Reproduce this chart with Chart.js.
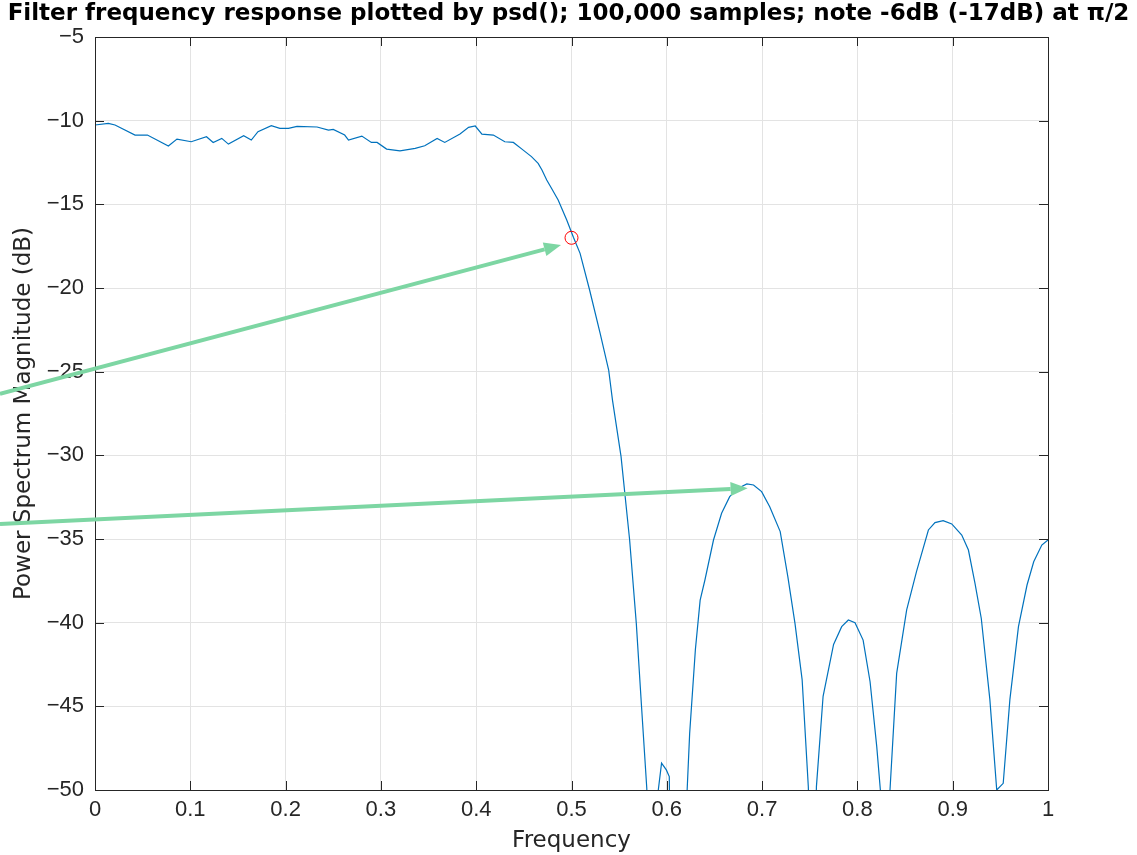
<!DOCTYPE html>
<html>
<head>
<meta charset="utf-8">
<script src="https://cdn.jsdelivr.net/npm/chart.js@4.4.1/dist/chart.umd.min.js"></script>
<style>
  html, body { margin: 0; padding: 0; background: #fff; }
  #wrap { width: 1137px; height: 855px; }
</style>
</head>
<body>
<div id="wrap"><canvas id="psd" width="1137" height="855"></canvas></div>
<script>
// psd() estimate (dB). Points below -50 fall outside the axes.
const freq = [
  0.000, 0.014, 0.021, 0.042, 0.055, 0.077, 0.086, 0.101, 0.117, 0.124,
  0.133, 0.140, 0.156, 0.164, 0.171, 0.185, 0.194, 0.203, 0.212, 0.233,
  0.245, 0.250, 0.262, 0.266, 0.280, 0.290, 0.296, 0.306, 0.320, 0.336,
  0.346, 0.359, 0.367, 0.383, 0.392, 0.399, 0.406, 0.418, 0.430, 0.439,
  0.448, 0.458, 0.465, 0.469, 0.474, 0.479, 0.486, 0.495, 0.502, 0.509,
  0.519, 0.530, 0.539, 0.543, 0.552, 0.561, 0.568, 0.5735, 0.579, 0.585,
  0.590, 0.5945, 0.5995, 0.6026, 0.604, 0.612, 0.624, 0.630, 0.635, 0.640,
  0.649, 0.6575, 0.666, 0.675, 0.684, 0.691, 0.6995, 0.708, 0.719, 0.727,
  0.7345, 0.742, 0.7485, 0.753, 0.757, 0.764, 0.775, 0.7835, 0.7905, 0.7975,
  0.806, 0.8133, 0.8203, 0.8244, 0.829, 0.834, 0.8412, 0.8517, 0.862, 0.8745,
  0.8814, 0.890, 0.899, 0.9095, 0.9165, 0.9234, 0.930, 0.939, 0.9462, 0.953,
  0.960, 0.969, 0.978, 0.985, 0.9935, 1.000
];
const powerDb = [
  -10.26, -10.16, -10.26, -10.86, -10.86, -11.51, -11.10, -11.26, -10.96, -11.30,
  -11.06, -11.40, -10.90, -11.16, -10.66, -10.30, -10.46, -10.46, -10.34, -10.38,
  -10.56, -10.52, -10.86, -11.16, -10.92, -11.30, -11.30, -11.70, -11.80, -11.66,
  -11.50, -11.06, -11.30, -10.80, -10.40, -10.32, -10.80, -10.86, -11.26, -11.30,
  -11.70, -12.15, -12.55, -12.95, -13.55, -14.04, -14.74, -15.94, -16.97, -17.93,
  -20.12, -22.70, -24.90, -26.70, -30.08, -35.06, -40.04, -45.02, -49.90, -60.0,
  -50.50, -48.40, -48.80, -49.20, -56.0, -62.0, -46.60, -41.60, -38.65, -37.45,
  -35.06, -33.46, -32.47, -31.97, -31.71, -31.77, -32.17, -33.07, -34.56, -37.25,
  -40.04, -43.40, -49.80, -60.0, -49.80, -44.40, -41.30, -40.24, -39.84, -40.00,
  -41.04, -43.53, -47.41, -50.20, -58.0, -50.20, -43.03, -39.24, -36.95, -34.46,
  -34.02, -33.90, -34.10, -34.76, -35.66, -37.65, -39.75, -44.60, -50.00, -49.60,
  -44.60, -40.24, -37.75, -36.36, -35.36, -35.06
];

// the -6dB point (pi/2) circled in red
const markFreq = [0.5];
const markDb = [-17];

// two green annotation arrows (data units; they start left of the axes)
const arrowStartF = [-0.0997, -0.0997];
const arrowStartDb = [-26.33, -34.10];
const arrowEndF = [0.489, 0.6848];
const arrowEndDb = [-17.43, -31.97];

const xTicks = [0, 0.1, 0.2, 0.3, 0.4, 0.5, 0.6, 0.7, 0.8, 0.9, 1];
const xTickLabels = ['0', '0.1', '0.2', '0.3', '0.4', '0.5', '0.6', '0.7', '0.8', '0.9', '1'];
const yTicks = [-50, -45, -40, -35, -30, -25, -20, -15, -10, -5];
const yTickLabels = ['\u221250', '\u221245', '\u221240', '\u221235', '\u221230', '\u221225', '\u221220', '\u221215', '\u221210', '\u22125'];

const axisColor = '#262626';
const tickFont = { family: "'Liberation Sans', Arial, sans-serif", size: 22 };
const labelFont = { family: "'DejaVu Sans', sans-serif", size: 23 };

// MATLAB style box with inward ticks, plus the arrows on top
const boxPlugin = {
  id: 'matlabBox',
  afterDatasetsDraw(chart) {
    const { ctx, chartArea: a, scales: { x, y } } = chart;
    ctx.save();
    ctx.strokeStyle = axisColor;
    ctx.lineWidth = 1;
    ctx.beginPath();
    xTicks.forEach(v => {
      const px = Math.round(x.getPixelForValue(v)) + 0.5;
      ctx.moveTo(px, a.bottom); ctx.lineTo(px, a.bottom - 9);
      ctx.moveTo(px, a.top); ctx.lineTo(px, a.top + 9);
    });
    yTicks.forEach(v => {
      const py = Math.round(y.getPixelForValue(v)) + 0.5;
      ctx.moveTo(a.left, py); ctx.lineTo(a.left + 9, py);
      ctx.moveTo(a.right, py); ctx.lineTo(a.right - 9, py);
    });
    ctx.stroke();
    ctx.strokeRect(Math.round(a.left) + 0.5, Math.round(a.top) + 0.5,
      Math.round(a.right - a.left), Math.round(a.bottom - a.top));

    ctx.strokeStyle = '#7dd6a3';
    ctx.fillStyle = '#7dd6a3';
    ctx.lineWidth = 4;
    for (let i = 0; i < arrowEndF.length; i++) {
      const x0 = x.getPixelForValue(arrowStartF[i]), y0 = y.getPixelForValue(arrowStartDb[i]);
      const x1 = x.getPixelForValue(arrowEndF[i]), y1 = y.getPixelForValue(arrowEndDb[i]);
      const ang = Math.atan2(y1 - y0, x1 - x0);
      const head = 17, half = 7;
      const bx = x1 - head * Math.cos(ang), by = y1 - head * Math.sin(ang);
      ctx.beginPath();
      ctx.moveTo(x0, y0);
      ctx.lineTo(bx, by);
      ctx.stroke();
      ctx.beginPath();
      ctx.moveTo(x1, y1);
      ctx.lineTo(bx - half * Math.sin(ang), by + half * Math.cos(ang));
      ctx.lineTo(bx + half * Math.sin(ang), by - half * Math.cos(ang));
      ctx.closePath();
      ctx.fill();
    }
    ctx.restore();
  }
};

new Chart(document.getElementById('psd'), {
  type: 'line',
  data: {
    datasets: [
      {
        data: freq.map((f, i) => ({ x: f, y: powerDb[i] })),
        borderColor: '#0072bd',
        borderWidth: 1.2,
        pointRadius: 0,
        tension: 0,
        order: 2
      },
      {
        data: markFreq.map((f, i) => ({ x: f, y: markDb[i] })),
        showLine: false,
        pointRadius: 6.5,
        pointBorderColor: '#ff0000',
        pointBackgroundColor: 'rgba(0,0,0,0)',
        pointBorderWidth: 1,
        order: 1
      }
    ]
  },
  options: {
    responsive: false,
    animation: false,
    devicePixelRatio: 1,
    layout: { padding: 0 },
    plugins: {
      legend: { display: false },
      tooltip: { enabled: false },
      title: {
        display: true,
        text: 'Filter frequency response plotted by psd(); 100,000 samples; note -6dB (-17dB) at \u03c0/2',
        color: '#000',
        font: { family: "'DejaVu Sans', sans-serif", size: 23, weight: 'bold', lineHeight: 1.2 },
        padding: { top: 0.5, bottom: 8.9 }
      }
    },
    scales: {
      x: {
        type: 'linear',
        min: 0, max: 1,
        afterFit: s => { s.height = 65; },
        afterBuildTicks: s => { s.ticks = xTicks.map(v => ({ value: v })); },
        ticks: {
          autoSkip: false, maxRotation: 0, padding: 7,
          color: axisColor, font: tickFont,
          callback: v => xTickLabels[xTicks.indexOf(v)]
        },
        grid: { color: '#e3e3e3', drawTicks: false },
        border: { display: false },
        title: {
          display: true, text: 'Frequency', color: axisColor,
          font: labelFont, padding: { top: 0, bottom: 0 }
        }
      },
      y: {
        position: 'left',
        min: -50, max: -5,
        afterFit: s => { s.width = 95; },
        afterBuildTicks: s => { s.ticks = yTicks.map(v => ({ value: v })); },
        ticks: {
          autoSkip: false, padding: 11,
          color: axisColor, font: tickFont,
          callback: v => yTickLabels[yTicks.indexOf(v)]
        },
        grid: { color: '#e3e3e3', drawTicks: false },
        border: { display: false },
        title: {
          display: true, text: 'Power Spectrum Magnitude (dB)', color: axisColor,
          font: labelFont, padding: { top: 10, bottom: 0 }
        }
      },
      yRight: {
        position: 'right',
        min: -50, max: -5,
        afterFit: s => { s.width = 89; },
        ticks: { display: false },
        grid: { display: false },
        border: { display: false }
      }
    }
  },
  plugins: [boxPlugin]
});
</script>
</body>
</html>
